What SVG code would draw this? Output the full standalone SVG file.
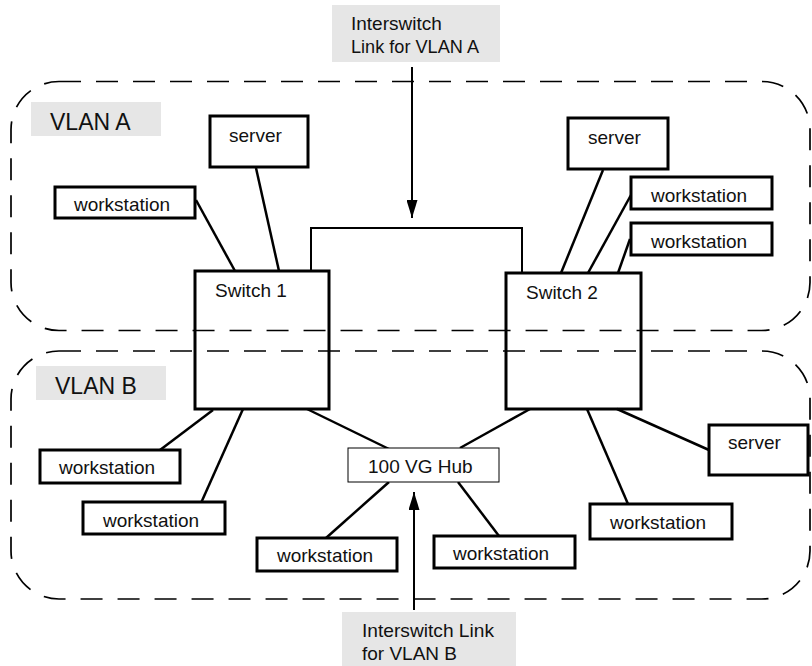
<svg xmlns="http://www.w3.org/2000/svg" width="812" height="666" viewBox="0 0 812 666">
<defs>
<style>
text{font-family:"Liberation Sans",Arial,sans-serif;font-size:19px;fill:#111}
.big{font-size:23px}
.lab{fill:#e6e6e6;stroke:none}
.node{fill:#fff;stroke:#000;stroke-width:3}
.sw{fill:none;stroke:#000;stroke-width:3}
.hub{fill:#fff;stroke:#000;stroke-width:1}
.vlan{fill:none;stroke:#000;stroke-width:1.7;stroke-dasharray:22 15}
.c{stroke:#000;stroke-width:2.5;fill:none}
.link{stroke:#000;stroke-width:2;fill:none}
</style>
<marker id="ah2" viewBox="0 0 10 10" refX="10" refY="5" markerWidth="18" markerHeight="11" markerUnits="userSpaceOnUse" orient="auto" preserveAspectRatio="none">
<path d="M0,0 L10,5 L0,10 z" fill="#000"/>
</marker>
</defs>

<g id="vlan-a">
<rect class="vlan" x="11" y="81.5" width="799" height="249" rx="48" ry="48"/>
<rect class="lab" x="31" y="102" width="130" height="34"/>
<text class="big" x="50" y="130">VLAN A</text>
</g>
<g id="vlan-b">
<rect class="vlan" x="11" y="351" width="799" height="248" rx="48" ry="48"/>
<rect class="lab" x="36" y="366" width="130" height="34"/>
<text class="big" x="55" y="394">VLAN B</text>
</g>

<g id="connectors">
<polyline class="link" points="311,271 311,228 522,228 522,273"/>
<line class="link" x1="412" y1="67" x2="412" y2="218" marker-end="url(#ah2)"/>
<line class="link" x1="414" y1="610" x2="414" y2="492" marker-end="url(#ah2)"/>
<line class="c" x1="196" y1="200" x2="235" y2="271"/>
<line class="c" x1="256" y1="168" x2="279" y2="271"/>
<line class="c" x1="603" y1="170" x2="561" y2="273"/>
<line class="c" x1="631" y1="195" x2="588" y2="273"/>
<line class="c" x1="630" y1="239" x2="618" y2="273"/>
<line class="c" x1="213" y1="410" x2="160" y2="450"/>
<line class="c" x1="243" y1="409" x2="201" y2="503"/>
<line class="c" x1="307" y1="409" x2="389" y2="449"/>
<line class="c" x1="389" y1="482" x2="326" y2="538"/>
<line class="c" x1="458" y1="482" x2="499" y2="536"/>
<line class="c" x1="530" y1="409" x2="460" y2="448"/>
<line class="c" x1="587" y1="409" x2="628" y2="504"/>
<line class="c" x1="617" y1="409" x2="709" y2="450"/>
</g>

<g id="label-a">
<rect class="lab" x="332" y="5" width="168" height="57"/>
<text x="351" y="30">Interswitch</text>
<text x="351" y="53" textLength="128" lengthAdjust="spacingAndGlyphs">Link for VLAN A</text>
</g>
<g id="label-b">
<rect class="lab" x="342" y="612" width="174" height="54"/>
<text x="362" y="637" textLength="132" lengthAdjust="spacingAndGlyphs">Interswitch Link</text>
<text x="362" y="660">for VLAN B</text>
</g>

<g id="switch1"><rect class="sw" x="195" y="271" width="134" height="138"/><text x="215" y="297">Switch 1</text></g>
<g id="switch2"><rect class="sw" x="506" y="273" width="135" height="136"/><text x="526" y="299">Switch 2</text></g>

<g id="server-a1"><rect class="node" x="210" y="116" width="98" height="51"/><text x="229" y="142">server</text></g>
<g id="ws-a1"><rect class="node" x="55" y="187" width="140" height="31"/><text x="74" y="211">workstation</text></g>
<g id="server-a2"><rect class="node" x="568" y="118" width="100" height="51"/><text x="588" y="144">server</text></g>
<g id="ws-a2"><rect class="node" x="631" y="177" width="141" height="32"/><text x="651" y="202">workstation</text></g>
<g id="ws-a3"><rect class="node" x="631" y="223" width="141" height="32"/><text x="651" y="248">workstation</text></g>

<g id="ws-b1"><rect class="node" x="40" y="450" width="140" height="33"/><text x="59" y="474">workstation</text></g>
<g id="ws-b2"><rect class="node" x="83" y="502" width="142" height="32"/><text x="103" y="527">workstation</text></g>
<g id="hub"><rect class="hub" x="348" y="448" width="151" height="34"/><text x="368" y="473">100 VG Hub</text></g>
<g id="ws-b3"><rect class="node" x="257" y="538" width="140" height="33"/><text x="277" y="562">workstation</text></g>
<g id="ws-b4"><rect class="node" x="434" y="536" width="141" height="32"/><text x="453" y="560">workstation</text></g>
<g id="ws-b5"><rect class="node" x="590" y="504" width="142" height="35"/><text x="610" y="529">workstation</text></g>
<g id="server-b"><rect class="node" x="709" y="425" width="99" height="50"/><text x="728" y="449">server</text></g>
</svg>
